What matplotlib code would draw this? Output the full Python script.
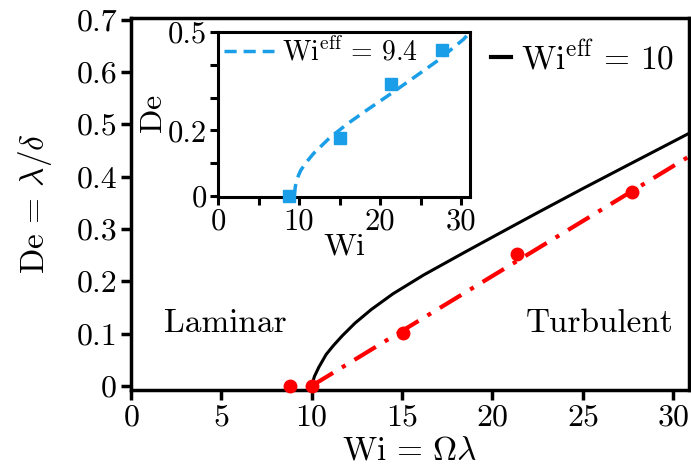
import matplotlib
matplotlib.use('Agg')
import matplotlib.pyplot as plt

plt.rcParams['font.family'] = 'serif'
plt.rcParams['font.serif'] = ['cmr10']
plt.rcParams['mathtext.fontset'] = 'cm'
plt.rcParams['axes.formatter.use_mathtext'] = True

# main panel data
wi_pts = [8.8, 10.0, 15.07, 21.35, 27.7]
de_pts = [0.0, 0.0, 0.101, 0.252, 0.371]
wi_fit = [10.0, 30.86]
de_fit = [0.0, 0.438]
wi_crit = [10.0, 10.15, 10.4, 10.8, 11.2, 11.7, 12.4, 13.3, 14.5, 16.2, 18.5, 20.2,
           22.5, 25.0, 27.5, 30.9]
de_crit = [0.0, 0.018, 0.036, 0.06, 0.077, 0.096, 0.12, 0.146, 0.176, 0.212, 0.256, 0.288,
           0.331, 0.377, 0.422, 0.483]

# inset data
wi_in = [8.8, 15.0, 21.4, 27.6]
de_in = [0.0, 0.176, 0.343, 0.444]
wi_in_fit = [9.4, 9.55, 9.8, 10.2, 10.8, 11.8, 13.8, 15.9, 18.3, 20.8, 24.1, 27.0, 30.3, 31.1]
de_in_fit = [0.0, 0.03, 0.055, 0.078, 0.1, 0.13, 0.178, 0.219, 0.261, 0.303, 0.36, 0.411, 0.478, 0.5]

x_ticks = [0, 5, 10, 15, 20, 25, 30]
y_ticks = [0, 0.1, 0.2, 0.3, 0.4, 0.5, 0.6, 0.7]
y_labels = ['0', '0.1', '0.2', '0.3', '0.4', '0.5', '0.6', '0.7']
in_x_ticks = [0, 5, 10, 15, 20, 25, 30]
in_x_labels = ['0', '', '10', '', '20', '', '30']
in_y_ticks = [0, 0.1, 0.2, 0.3, 0.4, 0.5]
in_y_labels = ['0', '', '0.2', '', '', '0.5']

blue = '#1a9ee8'
red = '#ff0000'
fs = 23

fig = plt.figure(figsize=(6.91, 4.72), dpi=100)
ax = fig.add_axes([0.1896, 0.1737, 0.807, 0.788])

ax.plot(wi_crit, de_crit, color='black', lw=2.2,
        label=r'$\mathrm{Wi}^{\mathrm{eff}}\,=\,10$')
ax.plot(wi_fit, de_fit, color=red, lw=3, linestyle=(0, (6, 2.5, 1, 2.5)))
ax.plot(wi_pts, de_pts, 'o', color=red, ms=9, clip_on=False, zorder=5)

ax.set_xlim(0, 30.86)
ax.set_ylim(-0.008, 0.703)
ax.set_xticks(x_ticks)
ax.set_yticks(y_ticks)
ax.set_yticklabels(y_labels)
ax.tick_params(direction='out', length=7, width=2.5, labelsize=fs, pad=3)
for s in ax.spines.values():
    s.set_linewidth(2.5)
ax.set_xlabel(r'$\mathrm{Wi}\,=\,\Omega\lambda$', fontsize=fs + 1, labelpad=4)
ax.set_ylabel(r'$\mathrm{De}\,=\,\lambda/\delta$', fontsize=fs + 1, labelpad=16)
ax.text(5.2, 0.12, 'Laminar', fontsize=fs + 1, ha='center', va='center')
ax.text(25.95, 0.12, 'Turbulent', fontsize=fs + 1, ha='center', va='center')
leg = ax.legend(loc='upper right', bbox_to_anchor=(1.012, 1.0), frameon=False,
                fontsize=fs + 1, handlelength=0.6, handletextpad=0.3, borderpad=0.15)
for h in leg.get_lines():
    h.set_linewidth(3)

ins = fig.add_axes([0.3155, 0.5826, 0.3647, 0.3494])
ins.plot(wi_in_fit, de_in_fit, color=blue, lw=2.5, linestyle=(0, (3.5, 2)),
         label=r'$\mathrm{Wi}^{\mathrm{eff}}\,=\,9.4$')
ins.plot(wi_in, de_in, 's', color=blue, ms=8, clip_on=False, zorder=5)
ins.set_xlim(0, 31.1)
ins.set_ylim(-0.003, 0.5)
ins.set_xticks(in_x_ticks)
ins.set_xticklabels(in_x_labels)
ins.set_yticks(in_y_ticks)
ins.set_yticklabels(in_y_labels)
ins.tick_params(direction='out', length=6, width=2.2, labelsize=fs - 1, pad=2)
for s in ins.spines.values():
    s.set_linewidth(2.2)
ins.set_xlabel(r'$\mathrm{Wi}$', fontsize=fs, labelpad=-2)
ins.set_ylabel(r'$\mathrm{De}$', fontsize=fs, labelpad=0)
ins.legend(loc='upper left', frameon=False, fontsize=fs - 3, handlelength=1.8,
           handletextpad=0.3, borderpad=0.05, borderaxespad=0.15)

fig.savefig('out.png', dpi=100)
